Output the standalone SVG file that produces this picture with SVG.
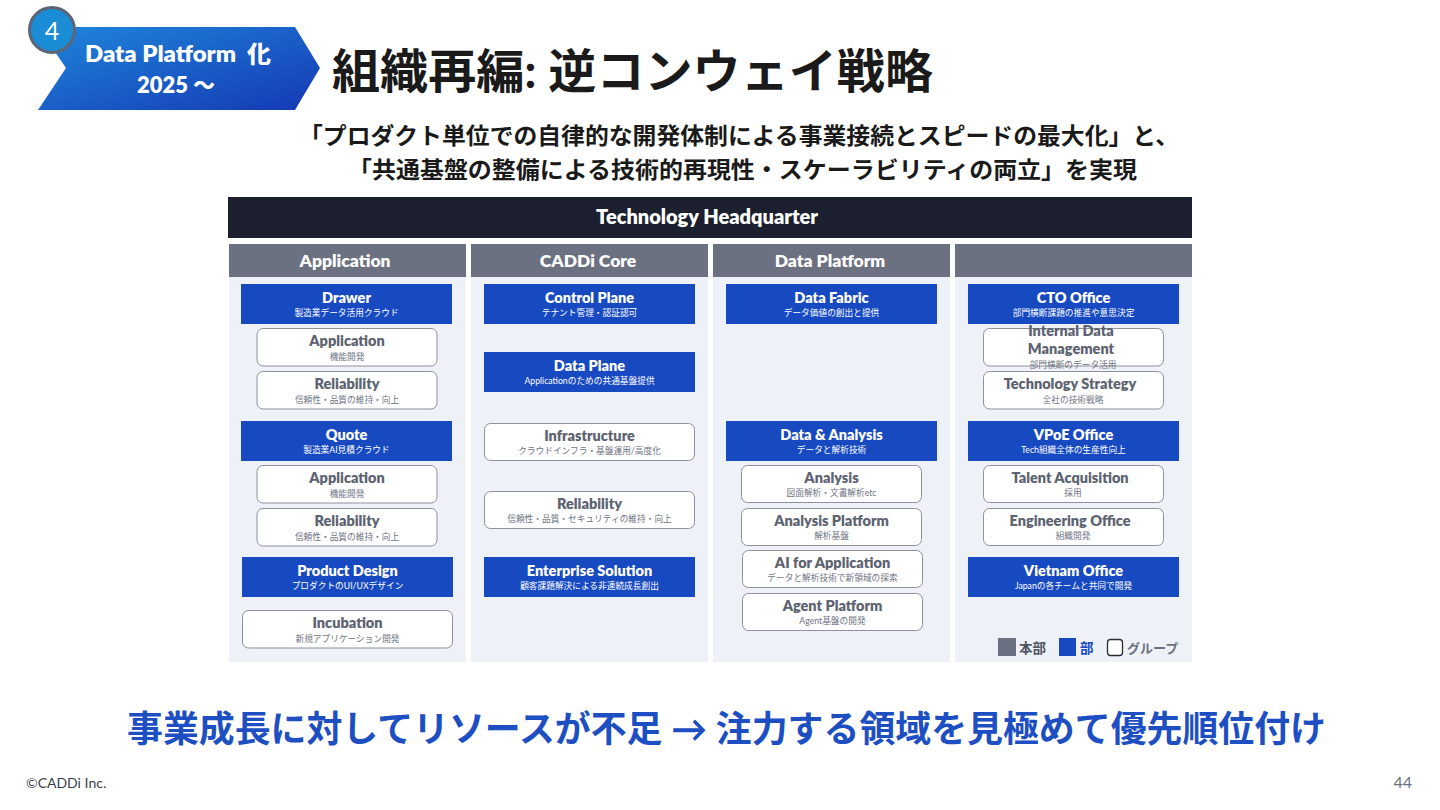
<svg xmlns="http://www.w3.org/2000/svg" width="1440" height="810" viewBox="0 0 1440 810">
<defs>
<linearGradient id="badgeGrad" x1="0" y1="0" x2="1" y2="1">
<stop offset="0" stop-color="#1f86da"/>
<stop offset="1" stop-color="#1538b4"/>
</linearGradient>
<style>
text{font-family:Lato,"Noto Sans CJK JP",sans-serif}
.bb{fill:#1749c1}
.gb{fill:#fff;stroke:#8c919c;stroke-width:1}
.col{fill:#eef2f8}
.colh{fill:#6b7180}
.bt{font-weight:800;font-size:14.5px;fill:#fff;text-anchor:middle}
.bs{font-size:8.7px;fill:#fff;text-anchor:middle}
.gt{font-weight:800;font-size:14.5px;fill:#5d6370;text-anchor:middle}
.gs{font-size:8.7px;fill:#6e7382;text-anchor:middle}
.ch{font-weight:800;font-size:17.5px;fill:#fff;text-anchor:middle}
</style>
</defs>
<rect width="1440" height="810" fill="#fff"/>

<g id="badge">
<polygon points="38,27 295,27 320,68 295,110 38,110 66,68" fill="url(#badgeGrad)"/>
<text x="178" y="62" font-size="23" font-weight="800" fill="#fff" text-anchor="middle" xml:space="preserve" textLength="186" lengthAdjust="spacingAndGlyphs">Data Platform  化</text>
<text x="176" y="93" font-size="22" font-weight="800" fill="#fff" text-anchor="middle">2025 ～</text>
<circle cx="52" cy="30" r="22.5" fill="#1a8dd6" stroke="#5b6577" stroke-width="3"/>
<text x="52" y="40" font-size="25" fill="#fff" text-anchor="middle">4</text>
</g>

<text x="332" y="88" font-size="47" font-weight="700" fill="#1a1a1a" textLength="601" lengthAdjust="spacingAndGlyphs">組織再編: 逆コンウェイ戦略</text>
<text x="299" y="144" font-size="23" font-weight="700" fill="#1a1a1a" textLength="880" lengthAdjust="spacingAndGlyphs">「プロダクト単位での自律的な開発体制による事業接続とスピードの最大化」と、</text>
<text x="348" y="178" font-size="23" font-weight="700" fill="#1a1a1a" textLength="789" lengthAdjust="spacingAndGlyphs">「共通基盤の整備による技術的再現性・スケーラビリティの両立」を実現</text>

<g id="hq">
<rect x="228" y="197" width="964" height="41" fill="#1c1f2d"/>
<text x="707" y="224" font-size="20" font-weight="800" fill="#fff" text-anchor="middle">Technology Headquarter</text>
</g>

<g id="columns">
<rect class="col" x="229" y="244" width="237" height="418"/>
<rect class="col" x="471" y="244" width="237" height="418"/>
<rect class="col" x="713" y="244" width="237" height="418"/>
<rect class="col" x="955" y="244" width="237" height="418"/>
<rect class="colh" x="229" y="244" width="237" height="33"/>
<rect class="colh" x="471" y="244" width="237" height="33"/>
<rect class="colh" x="713" y="244" width="237" height="33"/>
<rect class="colh" x="955" y="244" width="237" height="33"/>
<text class="ch" x="345" y="267">Application</text>
<text class="ch" x="588" y="267">CADDi Core</text>
<text class="ch" x="830" y="267">Data Platform</text>
</g>

<g id="connectors"></g>

<!-- Application column -->
<g id="drawer"><rect class="bb" x="241" y="284" width="211" height="40"/><text class="bt" x="346.5" y="302.5">Drawer</text><text class="bs" x="346.5" y="316">製造業データ活用クラウド</text></g>
<g id="drawer-app"><rect class="gb" x="257" y="328.5" width="180" height="37.5" rx="6"/><text class="gt" x="347" y="345.5">Application</text><text class="gs" x="347" y="359.5">機能開発</text></g>
<g id="drawer-rel"><rect class="gb" x="257" y="371.5" width="180" height="37.5" rx="6"/><text class="gt" x="347" y="388.5">Reliability</text><text class="gs" x="347" y="402.5">信頼性・品質の維持・向上</text></g>
<g id="quote"><rect class="bb" x="241" y="421" width="211" height="40"/><text class="bt" x="346.5" y="439.5">Quote</text><text class="bs" x="346.5" y="453">製造業AI見積クラウド</text></g>
<g id="quote-app"><rect class="gb" x="257" y="465.5" width="180" height="37.5" rx="6"/><text class="gt" x="347" y="482.5">Application</text><text class="gs" x="347" y="496.5">機能開発</text></g>
<g id="quote-rel"><rect class="gb" x="257" y="508.5" width="180" height="37.5" rx="6"/><text class="gt" x="347" y="525.5">Reliability</text><text class="gs" x="347" y="539.5">信頼性・品質の維持・向上</text></g>
<g id="product-design"><rect class="bb" x="242" y="557" width="211" height="40"/><text class="bt" x="347.5" y="575.5">Product Design</text><text class="bs" x="347.5" y="589">プロダクトのUI/UXデザイン</text></g>
<g id="incubation"><rect class="gb" x="242.5" y="610.5" width="210" height="37.5" rx="6"/><text class="gt" x="347.5" y="627.5">Incubation</text><text class="gs" x="347.5" y="641.5">新規アプリケーション開発</text></g>

<!-- CADDi Core column -->
<g id="control-plane"><rect class="bb" x="484" y="284" width="211" height="40"/><text class="bt" x="589.5" y="302.5">Control Plane</text><text class="bs" x="589.5" y="316">テナント管理・認証認可</text></g>
<g id="data-plane"><rect class="bb" x="484" y="352" width="211" height="40"/><text class="bt" x="589.5" y="370.5">Data Plane</text><text class="bs" x="589.5" y="384">Applicationのための共通基盤提供</text></g>
<g id="infrastructure"><rect class="gb" x="484.5" y="423.5" width="210" height="37" rx="6"/><text class="gt" x="589.5" y="440.5">Infrastructure</text><text class="gs" x="589.5" y="454">クラウドインフラ・基盤運用/高度化</text></g>
<g id="core-rel"><rect class="gb" x="484.5" y="491.5" width="210" height="37" rx="6"/><text class="gt" x="589.5" y="508.5">Reliability</text><text class="gs" x="589.5" y="522">信頼性・品質・セキュリティの維持・向上</text></g>
<g id="enterprise"><rect class="bb" x="484" y="557" width="211" height="40"/><text class="bt" x="589.5" y="575.5">Enterprise Solution</text><text class="bs" x="589.5" y="589">顧客課題解決による非連続成長創出</text></g>

<!-- Data Platform column -->
<g id="data-fabric"><rect class="bb" x="726" y="284" width="211" height="40"/><text class="bt" x="831.5" y="302.5">Data Fabric</text><text class="bs" x="831.5" y="316">データ価値の創出と提供</text></g>
<g id="data-analysis"><rect class="bb" x="726" y="421" width="211" height="40"/><text class="bt" x="831.5" y="439.5">Data &amp; Analysis</text><text class="bs" x="831.5" y="453">データと解析技術</text></g>
<g id="analysis"><rect class="gb" x="741.5" y="465.5" width="180" height="37" rx="6"/><text class="gt" x="831.5" y="482.5">Analysis</text><text class="gs" x="831.5" y="496">図面解析・文書解析etc</text></g>
<g id="analysis-platform"><rect class="gb" x="741.5" y="508.5" width="180" height="37" rx="6"/><text class="gt" x="831.5" y="525.5">Analysis Platform</text><text class="gs" x="831.5" y="539">解析基盤</text></g>
<g id="ai-for-app"><rect class="gb" x="742.5" y="550.5" width="180" height="37" rx="6"/><text class="gt" x="832.5" y="567.5">AI for Application</text><text class="gs" x="832.5" y="581">データと解析技術で新領域の探索</text></g>
<g id="agent-platform"><rect class="gb" x="742.5" y="593.5" width="180" height="37" rx="6"/><text class="gt" x="832.5" y="610.5">Agent Platform</text><text class="gs" x="832.5" y="624">Agent基盤の開発</text></g>

<!-- Right column -->
<g id="cto-office"><rect class="bb" x="968" y="284" width="211" height="40"/><text class="bt" x="1073.5" y="302.5">CTO Office</text><text class="bs" x="1073.5" y="316">部門横断課題の推進や意思決定</text></g>
<g id="internal-data"><rect class="gb" x="983.5" y="328.5" width="180" height="37.5" rx="6"/><text class="gt" x="1071" y="336">Internal Data</text><text class="gt" x="1071" y="354">Management</text><text class="gs" x="1073" y="367.5">部門横断のデータ活用</text></g>
<g id="tech-strategy"><rect class="gb" x="983.5" y="371.5" width="180" height="37.5" rx="6"/><text class="gt" x="1070" y="388.5">Technology Strategy</text><text class="gs" x="1073" y="402.5">全社の技術戦略</text></g>
<g id="vpoe-office"><rect class="bb" x="968" y="421" width="211" height="40"/><text class="bt" x="1073.5" y="439.5">VPoE Office</text><text class="bs" x="1073.5" y="453">Tech組織全体の生産性向上</text></g>
<g id="talent"><rect class="gb" x="983.5" y="465.5" width="180" height="37" rx="6"/><text class="gt" x="1070" y="482.5">Talent Acquisition</text><text class="gs" x="1073" y="496">採用</text></g>
<g id="eng-office"><rect class="gb" x="983.5" y="508.5" width="180" height="37" rx="6"/><text class="gt" x="1070" y="525.5">Engineering Office</text><text class="gs" x="1073" y="539">組織開発</text></g>
<g id="vietnam"><rect class="bb" x="968" y="557" width="211" height="40"/><text class="bt" x="1073.5" y="575.5">Vietnam Office</text><text class="bs" x="1073.5" y="589">Japanの各チームと共同で開発</text></g>

<g id="legend">
<rect x="998" y="638" width="18" height="18" fill="#6b7180"/>
<text x="1019" y="653" font-size="13.5" font-weight="700" fill="#4f5563">本部</text>
<rect x="1059" y="638" width="17" height="18" fill="#1749c1"/>
<text x="1080" y="653" font-size="13.5" font-weight="700" fill="#1749c1">部</text>
<rect x="1107.5" y="639.5" width="15" height="16" rx="3" fill="#fff" stroke="#2a2d36" stroke-width="1.3"/>
<text x="1127" y="653" font-size="13" font-weight="700" fill="#6b7180">グループ</text>
</g>

<text x="726.5" y="742" font-size="36" font-weight="700" fill="#1d4fc2" text-anchor="middle" textLength="1199" lengthAdjust="spacingAndGlyphs">事業成長に対してリソースが不足 → 注力する領域を見極めて優先順位付け</text>
<text x="26" y="788" font-size="14" fill="#3a3f4a">©CADDi Inc.</text>
<text x="1412" y="788" font-size="16" fill="#6b7080" text-anchor="end">44</text>
</svg>
